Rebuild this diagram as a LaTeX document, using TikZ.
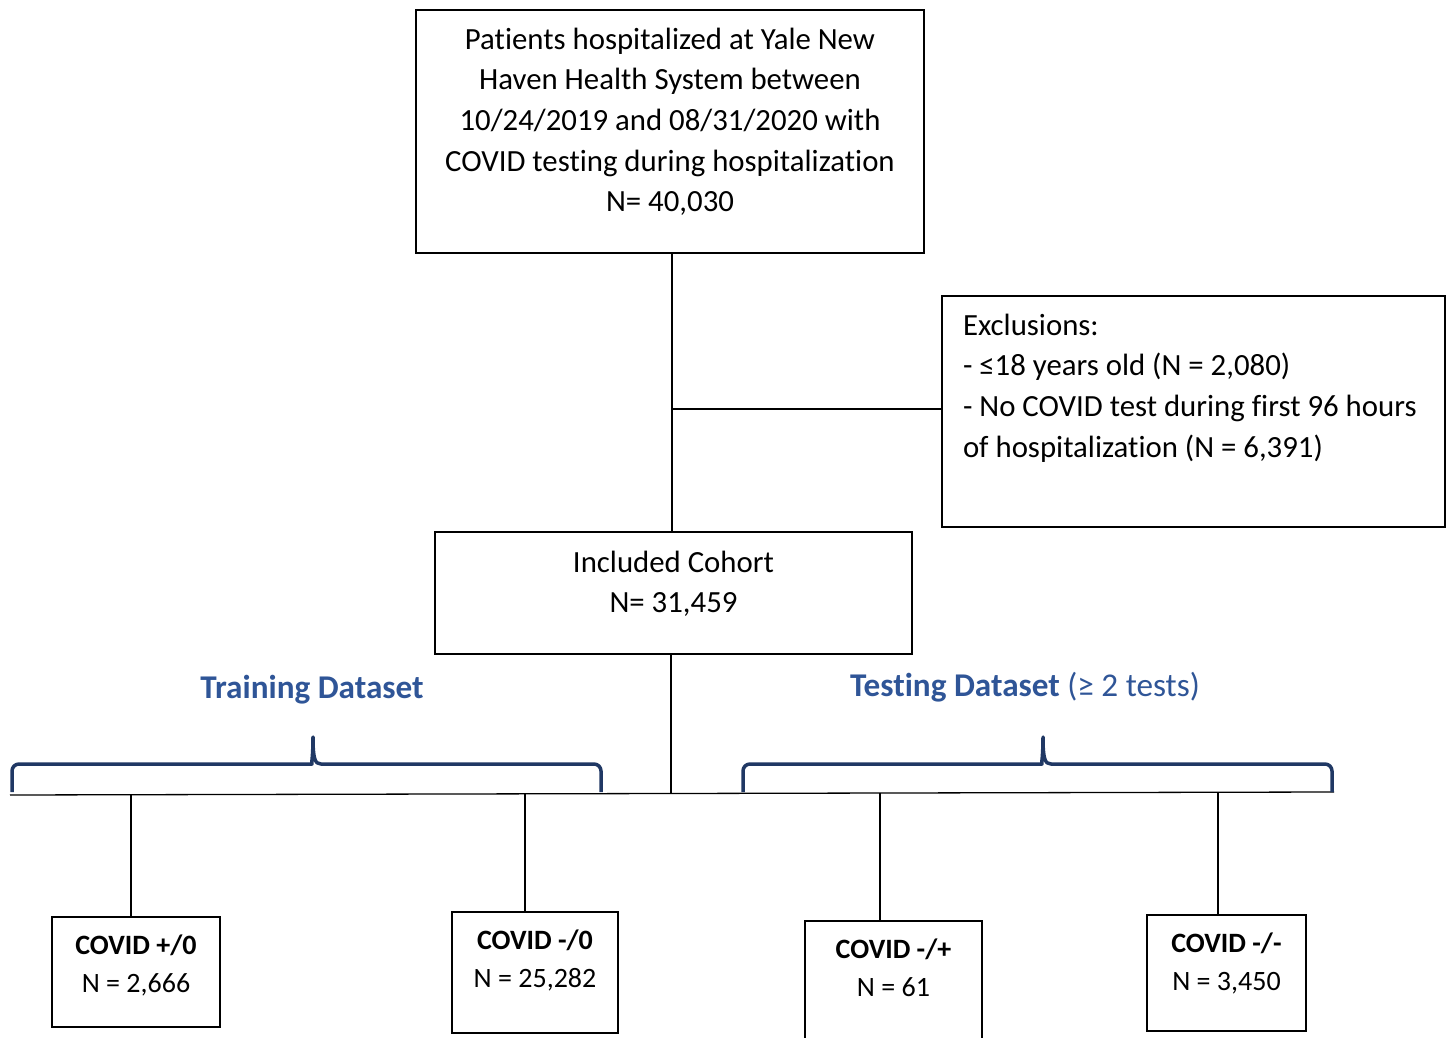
\documentclass[tikz,border=0pt]{standalone}
\usepackage{fontspec}
\setmainfont{Carlito}[Ligatures=NoCommon]
\usepackage{xcolor}
\definecolor{dsblue}{RGB}{47,85,151}
\definecolor{bracenavy}{RGB}{32,56,100}
\newcommand{\boxlines}[5]{\parbox[c][#2][t]{#1}{#4\rule{0pt}{#3}#5}}

\begin{document}
\begin{tikzpicture}[x=0.5pt, y=-0.5pt,
    box/.style={draw, line width=1pt, inner sep=0pt},
    link/.style={line width=0.65pt},
    brace/.style={draw=bracenavy, line width=1.75pt, line join=round},
    bigfont/.style={font=\fontsize{15.4}{20.35}\selectfont},
    smallfont/.style={font=\fontsize{14}{19}\selectfont},
    dslabel/.style={font=\fontsize{16.6}{20}\selectfont\bfseries, text=dsblue}]
    \useasboundingbox (0,0) rectangle (1448,1038);

    \node[box, bigfont] (patients) at (670,131.5) {\boxlines{254pt}{121.5pt}{19.5pt}{\centering}{Patients hospitalized at Yale New\\ Haven Health System between\\ 10/24/2019 and 08/31/2020 with\\ COVID testing during hospitalization\\ N= 40,030}};
    \node[box, bigfont] (excl) at (1193.5,411.5) {\boxlines{251.5pt}{115.5pt}{19.5pt}{\raggedright\leftskip=10.5pt}{Exclusions:\\ - ≤18 years old (N = 2,080)\\ - No COVID test during first 96 hours\\ of hospitalization (N = 6,391)}};
    \node[box, bigfont] (cohort) at (673.5,593) {\boxlines{238.5pt}{61pt}{20pt}{\centering}{Included Cohort\\ N= 31,459}};

    \node[dslabel] (trainlbl) at (312,690) {Training Dataset};
    \node[dslabel] (testlbl) at (1025,687) {Testing Dataset \mdseries(≥ 2 tests)};

    \node[box, smallfont] (pos0) at (136,972) {\boxlines{84pt}{55pt}{18.5pt}{\centering}{\textbf{COVID +/0}\\ N = 2,666}};
    \node[box, smallfont] (neg0) at (535,972.5) {\boxlines{83pt}{60.5pt}{18.5pt}{\centering}{\textbf{COVID -/0}\\ N = 25,282}};
    \node[box, smallfont] (negpos) at (893.5,990.5) {\boxlines{88.5pt}{69.5pt}{18.5pt}{\centering}{\textbf{COVID -/+}\\ N = 61}};
    \node[box, smallfont] (negneg) at (1226.5,973) {\boxlines{79.5pt}{58pt}{18.5pt}{\centering}{\textbf{COVID -/-}\\ N = 3,450}};

    % main trunk and exclusions
    \coordinate (trunk) at (672,0);
    \draw[link] (patients.south -| trunk) -- (cohort.north -| trunk);
    \coordinate (excljoin) at (672,409);
    \draw[link] (excljoin) -- (excljoin -| excl.west);

    % split into the four groups
    \coordinate (busL) at (10,795);
    \coordinate (busR) at (1334,792);
    \coordinate (split) at (671,793);
    \draw[link] (cohort.south -| split) -- (split);
    \draw[link] (busL) -- (busR);
    \foreach \b/\x/\y in {pos0/131/795, neg0/525/794, negpos/880/793, negneg/1218/792} {
        \coordinate (top-\b) at (\x,\y);
        \draw[link] (top-\b) -- (top-\b |- \b.north);
    }

    % dataset braces
    \foreach \l/\m/\r in {12/313/601, 743/1043/1332}
        \draw[brace, rounded corners=3.5pt] (\l,792) -- (\l,764) -- ({\m-8},764) [sharp corners]
            .. controls ({\m-2},764) and (\m,759) .. (\m,737)
            .. controls (\m,759) and ({\m+2},764) .. ({\m+8},764) [rounded corners=3.5pt]
            -- (\r,764) -- (\r,792);
\end{tikzpicture}
\end{document}
